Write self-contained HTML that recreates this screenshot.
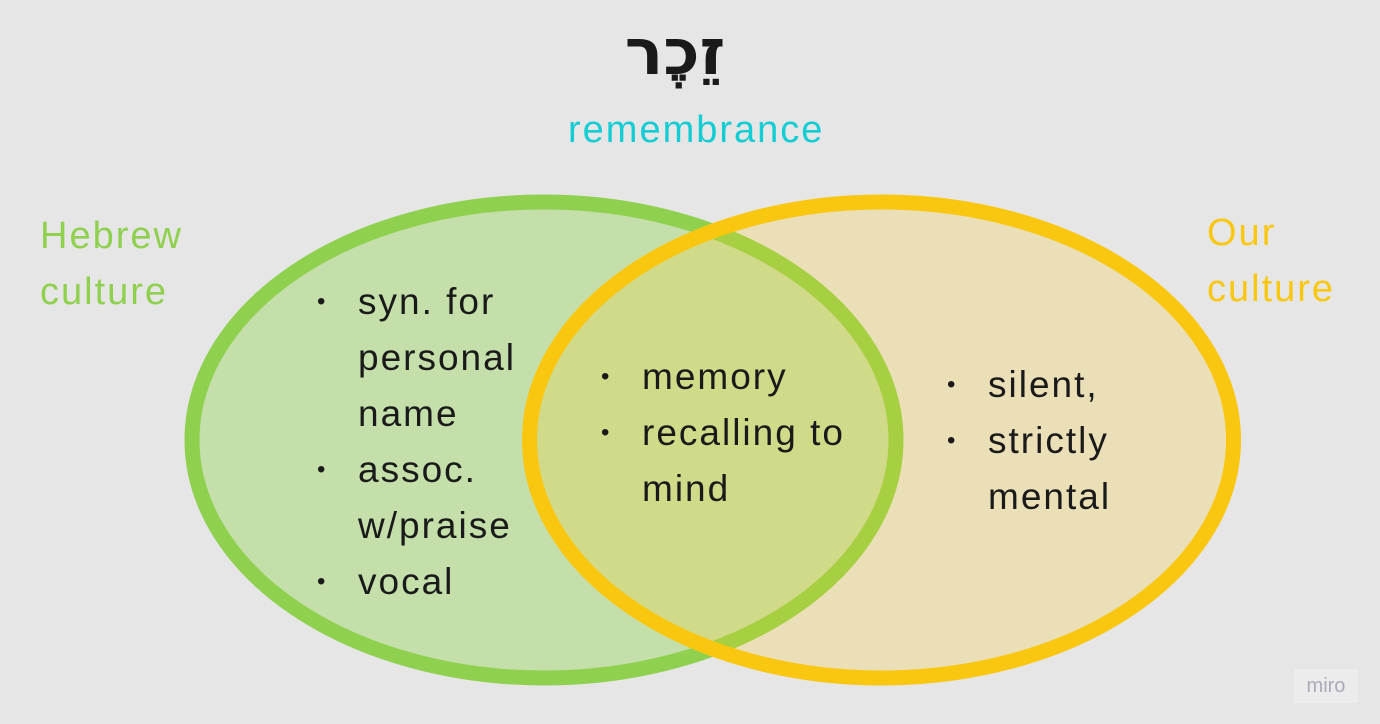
<!DOCTYPE html>
<html><head><meta charset="utf-8"><style>
body{margin:0;width:1380px;height:724px;background:#e6e6e6;overflow:hidden;position:relative;font-family:"Liberation Sans","DejaVu Sans",sans-serif;}
.t{position:absolute;font-size:37px;line-height:56px;color:#1a1a1a;white-space:nowrap;letter-spacing:2px;}
.b{position:absolute;font-size:24px;color:#1a1a1a;}
</style></head><body>
<svg width="1380" height="724" style="position:absolute;left:0;top:0">
<ellipse cx="544" cy="440" rx="352" ry="238" fill="#c4dfaa" stroke="#8fd14f" stroke-width="15"/>
<ellipse cx="881.5" cy="440" rx="352" ry="238" fill="rgba(250,200,20,0.22)" stroke="#fac710" stroke-width="15"/>
</svg>
<div style="position:absolute;left:575px;top:8px;width:200px;text-align:center;font-size:64px;line-height:90px;color:#1a1a1a;font-family:'DejaVu Sans','Liberation Sans',sans-serif;font-weight:bold;" dir="rtl">זֵכֶר</div>
<div class="t" style="left:568px;top:102px;color:#12cdd4;font-size:38px;">remembrance</div>
<div class="t" style="left:40px;top:208px;color:#8fd14f;font-size:38px;">Hebrew<br>culture</div>
<div class="t" style="left:1207px;top:205px;color:#fac710;font-size:38px;">Our<br>culture</div>
<div class="t" style="left:358px;top:274px;">syn. for<br>personal<br>name<br>assoc.<br>w/praise<br>vocal</div>
<div class="b" style="left:317px;top:288px;">•</div>
<div class="b" style="left:317px;top:456px;">•</div>
<div class="b" style="left:317px;top:568px;">•</div>
<div class="t" style="left:642px;top:349px;">memory<br>recalling to<br>mind</div>
<div class="b" style="left:601px;top:363px;">•</div>
<div class="b" style="left:601px;top:419px;">•</div>
<div class="t" style="left:988px;top:357px;">silent,<br>strictly<br>mental</div>
<div class="b" style="left:947px;top:371px;">•</div>
<div class="b" style="left:947px;top:427px;">•</div>
<div style="position:absolute;left:1294px;top:669px;width:64px;height:34px;background:#ececec;color:#aaaabb;font-size:20px;line-height:34px;text-align:center;">miro</div>
</body></html>
